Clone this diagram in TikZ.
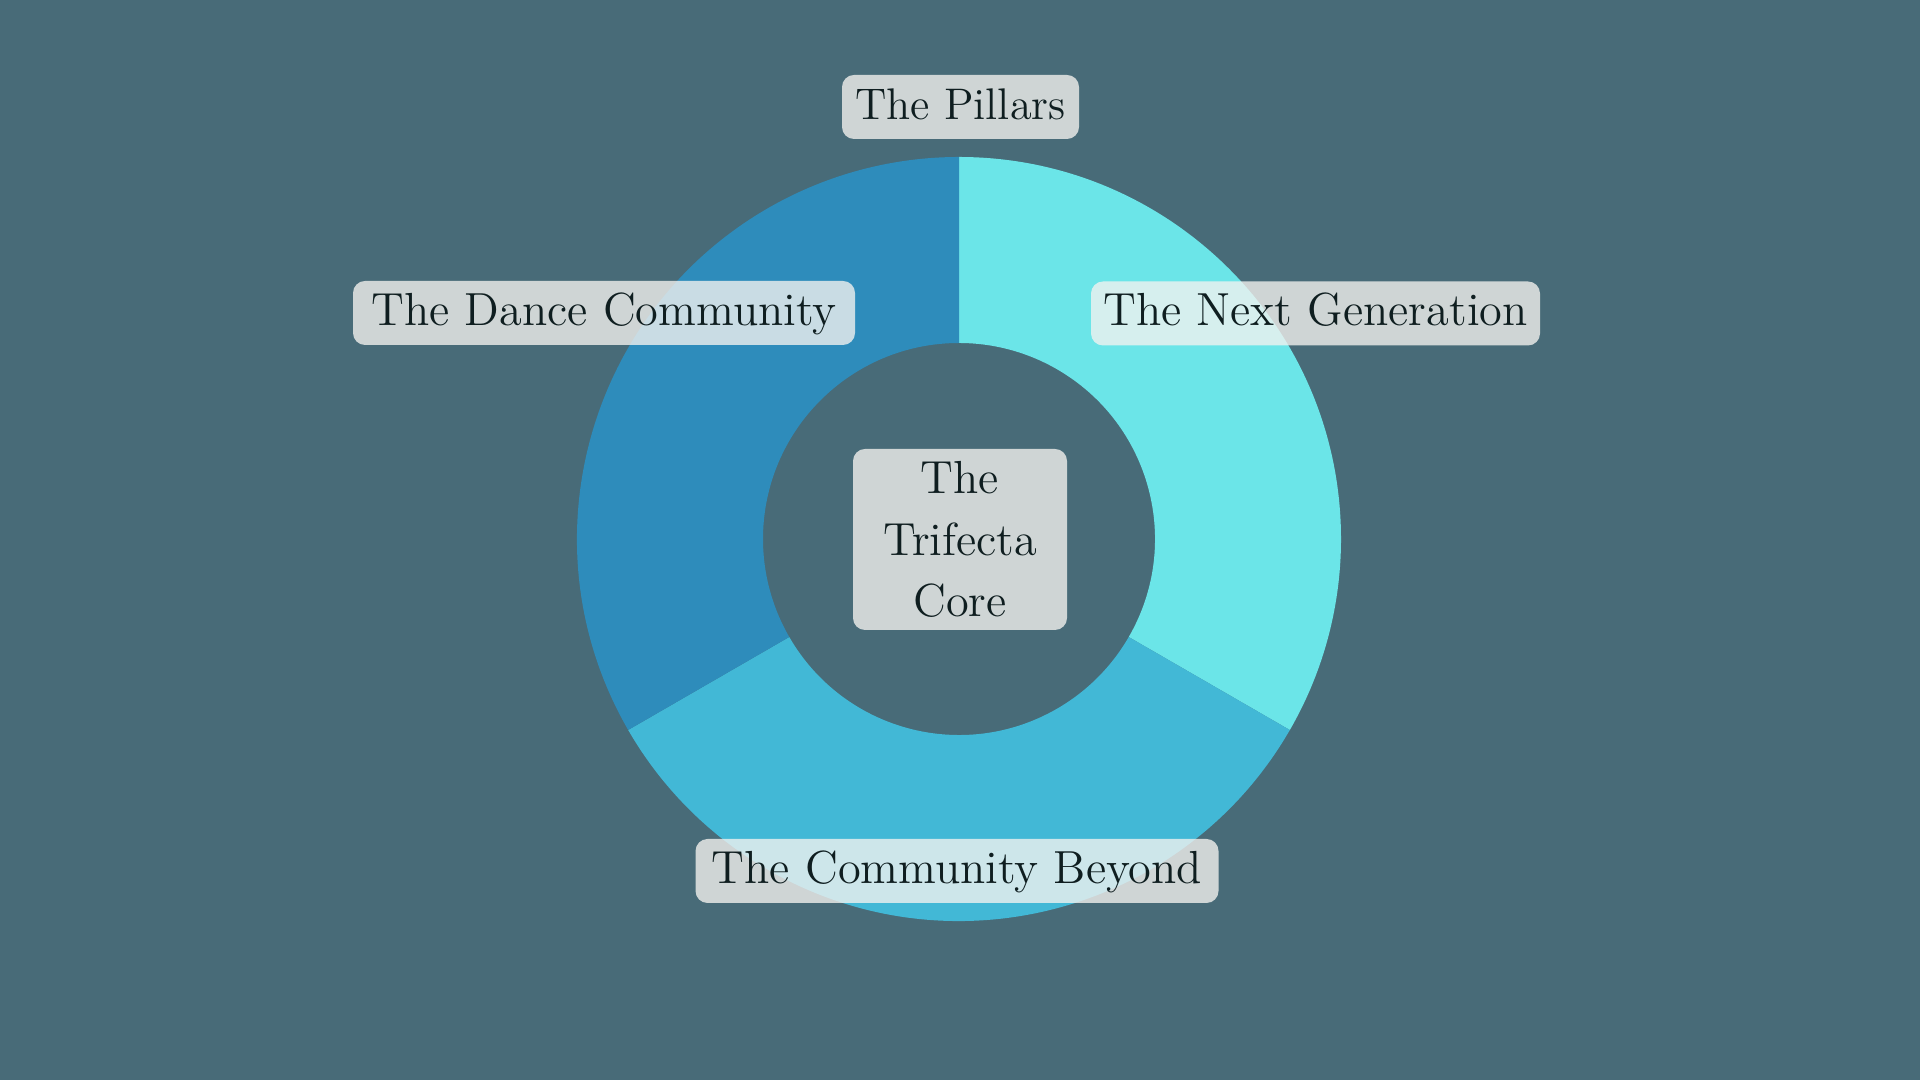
\documentclass[tikz,border=0pt]{standalone}
\usepackage{tikz}
\usetikzlibrary{positioning}

\definecolor{bgslate}{HTML}{486B78}
\definecolor{segright}{HTML}{6BE5E8}
\definecolor{segbottom}{HTML}{42B8D6}
\definecolor{segleft}{HTML}{2E8CBB}
\definecolor{boxfill}{RGB}{245,243,240}
\definecolor{inktext}{HTML}{0F1E20}

\begin{document}
\begin{tikzpicture}[
  every node/.style={font=\fontsize{13.2}{17.4}\selectfont, text=inktext},
  tag/.style={rectangle, rounded corners=0.12cm, fill=boxfill,
              fill opacity=0.78, text opacity=1, inner xsep=0pt,
              inner ysep=0.095cm, text height=0.35cm, text depth=0.10cm,
              align=center},
  core/.style={rectangle, rounded corners=0.12cm, fill=boxfill,
               fill opacity=0.78, text opacity=1, align=center,
               minimum width=2.14cm, minimum height=1.81cm}
]
  % Background (fixes the page size)
  \fill[bgslate] (0,0) rectangle (19.2,10.8);

  % Ring of three segments
  \begin{scope}[shift={(9.59,5.41)}]
    \fill[segright]  (90:3.82) arc (90:-30:3.82)
                     -- (-30:1.96) arc (-30:90:1.96) -- cycle;
    \fill[segbottom] (-30:3.82) arc (-30:-150:3.82)
                     -- (-150:1.96) arc (-150:-30:1.96) -- cycle;
    \fill[segleft]   (210:3.82) arc (210:90:3.82)
                     -- (90:1.96) arc (90:210:1.96) -- cycle;
  \end{scope}

  % Labels
  \node[tag, minimum width=2.37cm, font=\fontsize{12.6}{17.4}\selectfont]
    (pillars) at (9.605, 9.73) {The Pillars};
  \node[tag, minimum width=5.02cm] (dance)   at (6.04,  7.67)  {The Dance Community};
  \node[tag, minimum width=4.49cm] (nextgen) at (13.155,7.665) {The Next Generation};
  \node[core]                      (core)    at (9.60,  5.405) {The\\Trifecta\\Core};
  \node[tag, minimum width=5.23cm] (beyond)  at (9.57,  2.09)  {The Community Beyond};
\end{tikzpicture}
\end{document}
